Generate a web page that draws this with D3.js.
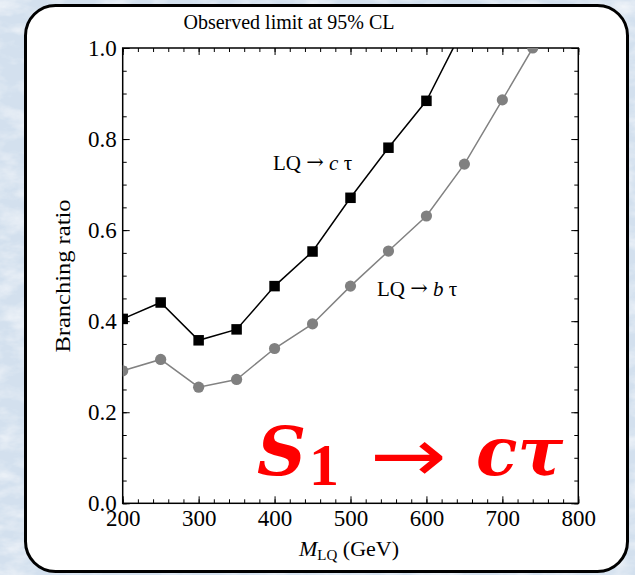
<!DOCTYPE html>
<html>
<head>
<meta charset="utf-8">
<script src="https://cdn.jsdelivr.net/npm/d3@7"></script>
<style>
  html, body { margin: 0; padding: 0; background: #dde8f3; }
  svg { display: block; }
</style>
</head>
<body>
<svg id="chart" width="635" height="575"></svg>
<script>
// ---- data ----
const massesC = [200, 250, 300, 350, 400, 450, 500, 550, 600, 650];
const brC     = [0.405, 0.441, 0.358, 0.382, 0.477, 0.553, 0.671, 0.781, 0.884, 1.048];
const massesB = [200, 250, 300, 350, 400, 450, 500, 550, 600, 650, 700, 740];
const brB     = [0.291, 0.316, 0.255, 0.272, 0.340, 0.394, 0.477, 0.554, 0.631, 0.745, 0.886, 1.0];
const xTicks = [200, 300, 400, 500, 600, 700, 800];
const yTicks = [0.0, 0.2, 0.4, 0.6, 0.8, 1.0];

const svg = d3.select("#chart");
const W = 635, H = 575;
const serif = "'Liberation Serif', 'DejaVu Serif', serif";

// background texture
const defs = svg.append("defs");
const f = defs.append("filter").attr("id", "tex").attr("x", 0).attr("y", 0).attr("width", "100%").attr("height", "100%");
f.append("feTurbulence").attr("type", "fractalNoise").attr("baseFrequency", "0.03 0.06").attr("numOctaves", 4).attr("seed", 4).attr("result", "n");
f.append("feColorMatrix").attr("in", "n").attr("type", "matrix")
  .attr("values", "0 0 0 0 1  0 0 0 0 1  0 0 0 0 1  1.6 0 0 0 -0.65");
svg.append("rect").attr("width", W).attr("height", H).attr("fill", "#d3e0ee");
svg.append("rect").attr("width", W).attr("height", H).attr("filter", "url(#tex)").attr("opacity", 0.85);

// panel frame
svg.append("rect").attr("x", 25.5).attr("y", 5.5).attr("width", 602).attr("height", 566)
  .attr("rx", 30).attr("ry", 30).attr("fill", "#fff").attr("stroke", "#000").attr("stroke-width", 3);

// scales
const x = d3.scaleLinear().domain([200, 800]).range([122.7, 578.3]);
const y = d3.scaleLinear().domain([0, 1]).range([503.3, 48]);
const x0 = x.range()[0], x1 = x.range()[1], y0 = y.range()[0], y1 = y.range()[1];

defs.append("clipPath").attr("id", "plotclip").append("rect")
  .attr("x", x0).attr("y", y1).attr("width", x1 - x0).attr("height", y0 - y1);

// axes (inward ticks on all sides)
function styleAxis(g) {
  g.select(".domain").remove();
  g.selectAll("line").attr("stroke", "#000").attr("stroke-width", 1);
  g.selectAll("text").attr("font-family", serif).attr("font-size", 23).attr("fill", "#000");
}
const minorX = d3.range(200, 801, 20);
const minorY = d3.range(0, 1.0001, 0.05);

svg.append("g").attr("transform", `translate(0,${y0})`)
  .call(d3.axisBottom(x).tickValues(minorX).tickSize(-4).tickFormat(""))
  .call(styleAxis);
svg.append("g").attr("transform", `translate(0,${y0})`)
  .call(d3.axisBottom(x).tickValues(xTicks).tickSize(-7).tickPadding(6).tickFormat(d3.format("d")))
  .call(styleAxis);
svg.append("g").attr("transform", `translate(0,${y1})`)
  .call(d3.axisTop(x).tickValues(minorX).tickSize(-4).tickFormat(""))
  .call(styleAxis);
svg.append("g").attr("transform", `translate(0,${y1})`)
  .call(d3.axisTop(x).tickValues(xTicks).tickSize(-7).tickFormat(""))
  .call(styleAxis);

svg.append("g").attr("transform", `translate(${x0},0)`)
  .call(d3.axisLeft(y).tickValues(minorY).tickSize(-4).tickFormat(""))
  .call(styleAxis);
svg.append("g").attr("transform", `translate(${x0},0)`)
  .call(d3.axisLeft(y).tickValues(yTicks).tickSize(-7).tickPadding(6).tickFormat(d3.format(".1f")))
  .call(styleAxis);
svg.append("g").attr("transform", `translate(${x1},0)`)
  .call(d3.axisRight(y).tickValues(minorY).tickSize(-4).tickFormat(""))
  .call(styleAxis);
svg.append("g").attr("transform", `translate(${x1},0)`)
  .call(d3.axisRight(y).tickValues(yTicks).tickSize(-7).tickFormat(""))
  .call(styleAxis);

// plot box
svg.append("rect").attr("x", x0).attr("y", y1).attr("width", x1 - x0).attr("height", y0 - y1)
  .attr("fill", "none").attr("stroke", "#000").attr("stroke-width", 1.5);

// series
const plot = svg.append("g").attr("clip-path", "url(#plotclip)");
const dataC = massesC.map((m, i) => ({ m, v: brC[i] }));
const dataB = massesB.map((m, i) => ({ m, v: brB[i] }));
const line = d3.line().x(d => x(d.m)).y(d => y(d.v));

plot.append("path").datum(dataB).attr("d", line).attr("fill", "none")
  .attr("stroke", "#828282").attr("stroke-width", 1.5);
plot.selectAll("circle.b").data(dataB).enter().append("circle").attr("class", "b")
  .attr("cx", d => x(d.m)).attr("cy", d => y(d.v)).attr("r", 5.6).attr("fill", "#808080");

plot.append("path").datum(dataC).attr("d", line).attr("fill", "none")
  .attr("stroke", "#000").attr("stroke-width", 1.5);
const sq = 10.5;
plot.selectAll("rect.c").data(dataC).enter().append("rect").attr("class", "c")
  .attr("x", d => x(d.m) - sq / 2).attr("y", d => y(d.v) - sq / 2)
  .attr("width", sq).attr("height", sq).attr("fill", "#000");

// title
svg.append("text").attr("x", 289).attr("y", 28.5).attr("text-anchor", "middle")
  .attr("font-family", serif).attr("font-size", 20).text("Observed limit at 95% CL");

// axis titles
const xl = svg.append("text").attr("x", 349).attr("y", 556).attr("text-anchor", "middle")
  .attr("font-family", serif).attr("font-size", 22);
xl.append("tspan").attr("font-style", "italic").text("M");
xl.append("tspan").attr("font-size", 15).attr("dy", 4).text("LQ");
xl.append("tspan").attr("dy", -4).text(" (GeV)");

svg.append("text").attr("transform", "translate(70,276) rotate(-90)").attr("text-anchor", "middle")
  .attr("font-family", serif).attr("font-size", 22).attr("textLength", 153).attr("lengthAdjust", "spacingAndGlyphs")
  .text("Branching ratio");

// series labels
function seriesLabel(px, py, q) {
  const t = svg.append("text").attr("x", px).attr("y", py).attr("font-family", serif).attr("font-size", 21);
  t.append("tspan").text("LQ ");
  t.append("tspan").attr("font-family", "'DejaVu Serif', serif").attr("font-size", 21).attr("dy", -1).text("\u2192");
  t.append("tspan").attr("dy", 1).text(" ");
  t.append("tspan").attr("font-style", "italic").text(q);
  t.append("tspan").text(" \u03c4");
}
seriesLabel(273, 170, "c");
seriesLabel(377, 296, "b");

// big red label
const red = "#ff0000";
const bigFont = "'DejaVu Serif', serif";
const big = svg.append("g").attr("fill", red);
big.append("text").attr("x", 257).attr("y", 475).attr("font-family", bigFont).attr("font-size", 68)
  .attr("font-weight", "bold").attr("font-style", "italic").text("S");
big.append("text").attr("x", 309).attr("y", 485).attr("font-family", serif).attr("font-size", 60)
  .attr("font-weight", "bold").text("1");
big.append("text").attr("x", 370).attr("y", 481).attr("font-family", "'DejaVu Sans', sans-serif").attr("font-size", 74)
  .attr("textLength", 77).attr("lengthAdjust", "spacingAndGlyphs").text("\u2192");
big.append("text").attr("x", 476).attr("y", 475).attr("font-family", bigFont).attr("font-size", 68)
  .attr("font-weight", "bold").attr("font-style", "italic").text("c\u03c4");
</script>
</body>
</html>
